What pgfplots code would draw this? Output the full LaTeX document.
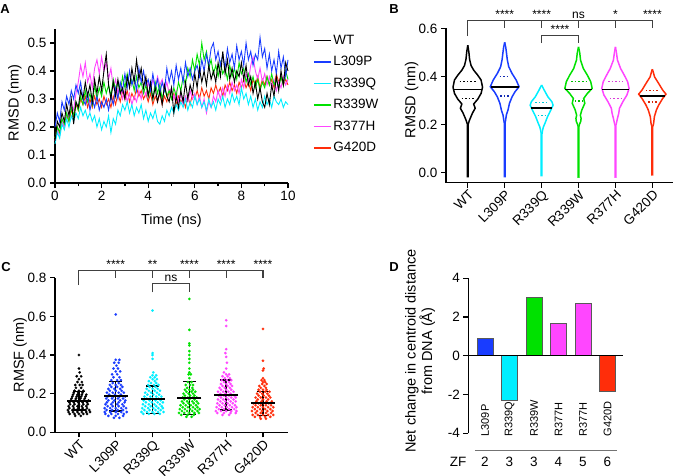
\documentclass[border=0pt]{standalone}
\usepackage{fontspec}
\setmainfont{Liberation Sans}
\usepackage{pgfplots}
\pgfplotsset{compat=1.18}
\usepackage{pgfplotstable}

\definecolor{cWT}{RGB}{0,0,0}
\definecolor{cL}{RGB}{25,60,255}
\definecolor{cQ}{RGB}{0,238,255}
\definecolor{cW}{RGB}{0,225,0}
\definecolor{cH}{RGB}{255,70,255}
\definecolor{cD}{RGB}{255,45,10}

\newcommand\tfont{\fontsize{13.5}{15}\selectfont}
\newcommand\lfont{\fontsize{14.5}{16.6}\selectfont}
\newcommand\sfont{\fontsize{12}{13}\selectfont}
\newcommand\bfont{\fontsize{11}{12}\selectfont}

\tikzset{q/.style={dash pattern=on 1.6pt off 2pt, line width=1.3pt}}

\pgfplotsset{
  prism/.style={
    scale only axis, clip=false,
    axis lines*=left,
    axis line style={-, line width=1.3pt},
    tick style={line width=1.3pt, black},
    tick align=outside,
    major tick length=5pt, minor tick length=3pt,
    tick label style={font=\tfont},
    label style={font=\lfont},
    /pgf/number format/assume math mode=true,
  },
  catx/.style={
    xtick={0,...,5},
    xticklabels={WT,L309P,R339Q,R339W,R377H,G420D},
    xticklabel style={rotate=45, anchor=north east, inner sep=1pt},
  },
  oneplace/.style={yticklabel style={/pgf/number format/.cd, fixed, fixed zerofill, precision=1}},
}

% RMSD over time (ns), one column per construct
\pgfplotstableread{
t WT L Q W H D
0.0 0.15 0.20 0.14 0.16 0.15 0.16
0.1 0.22 0.25 0.18 0.20 0.19 0.20
0.2 0.20 0.22 0.16 0.18 0.17 0.18
0.3 0.25 0.29 0.21 0.23 0.22 0.22
0.4 0.22 0.26 0.19 0.21 0.20 0.20
0.5 0.28 0.31 0.23 0.25 0.25 0.24
0.6 0.24 0.28 0.20 0.22 0.23 0.22
0.7 0.30 0.33 0.24 0.27 0.28 0.26
0.8 0.21 0.30 0.22 0.24 0.26 0.24
0.9 0.29 0.35 0.25 0.29 0.32 0.28
1.0 0.27 0.32 0.23 0.26 0.36 0.26
1.1 0.33 0.36 0.27 0.31 0.42 0.30
1.2 0.30 0.30 0.24 0.28 0.38 0.28
1.3 0.36 0.28 0.26 0.33 0.43 0.31
1.4 0.31 0.32 0.23 0.29 0.36 0.27
1.5 0.35 0.26 0.25 0.32 0.39 0.30
1.6 0.29 0.30 0.22 0.28 0.34 0.27
1.7 0.37 0.27 0.24 0.35 0.41 0.31
1.8 0.32 0.31 0.20 0.30 0.44 0.28
1.9 0.38 0.26 0.23 0.34 0.39 0.30
2.0 0.33 0.29 0.19 0.31 0.45 0.27
2.1 0.40 0.27 0.22 0.36 0.40 0.31
2.2 0.46 0.30 0.20 0.32 0.43 0.28
2.3 0.35 0.26 0.24 0.35 0.37 0.30
2.4 0.30 0.31 0.18 0.31 0.41 0.27
2.5 0.36 0.28 0.23 0.37 0.34 0.31
2.6 0.31 0.34 0.21 0.33 0.37 0.28
2.7 0.37 0.30 0.26 0.36 0.32 0.32
2.8 0.32 0.36 0.24 0.32 0.35 0.29
2.9 0.34 0.33 0.28 0.38 0.30 0.33
3.0 0.30 0.39 0.26 0.34 0.33 0.30
3.1 0.38 0.34 0.29 0.39 0.29 0.33
3.2 0.34 0.40 0.25 0.35 0.32 0.29
3.3 0.41 0.35 0.28 0.37 0.28 0.32
3.4 0.36 0.38 0.24 0.33 0.31 0.30
3.5 0.44 0.33 0.27 0.38 0.29 0.34
3.6 0.37 0.41 0.25 0.34 0.33 0.31
3.7 0.41 0.36 0.28 0.36 0.30 0.33
3.8 0.34 0.40 0.23 0.32 0.34 0.30
3.9 0.38 0.35 0.26 0.35 0.31 0.32
4.0 0.31 0.37 0.22 0.31 0.36 0.29
4.1 0.36 0.33 0.25 0.34 0.33 0.32
4.2 0.30 0.39 0.23 0.30 0.37 0.28
4.3 0.34 0.34 0.26 0.36 0.34 0.31
4.4 0.29 0.37 0.22 0.32 0.38 0.29
4.5 0.33 0.32 0.21 0.35 0.35 0.32
4.6 0.28 0.36 0.24 0.30 0.37 0.28
4.7 0.35 0.33 0.22 0.34 0.33 0.31
4.8 0.31 0.41 0.26 0.31 0.36 0.29
4.9 0.29 0.36 0.24 0.33 0.32 0.33
5.0 0.34 0.40 0.27 0.30 0.34 0.30
5.1 0.25 0.35 0.25 0.34 0.30 0.32
5.2 0.31 0.42 0.28 0.31 0.33 0.28
5.3 0.27 0.37 0.26 0.36 0.29 0.31
5.4 0.33 0.41 0.29 0.33 0.32 0.29
5.5 0.29 0.36 0.27 0.38 0.28 0.30
5.6 0.36 0.43 0.30 0.35 0.31 0.27
5.7 0.30 0.38 0.26 0.41 0.29 0.31
5.8 0.35 0.41 0.29 0.38 0.33 0.28
5.9 0.32 0.37 0.27 0.44 0.30 0.32
6.0 0.39 0.40 0.31 0.40 0.32 0.30
6.1 0.34 0.42 0.28 0.46 0.28 0.33
6.2 0.41 0.38 0.30 0.42 0.31 0.30
6.3 0.36 0.44 0.27 0.50 0.27 0.34
6.4 0.40 0.40 0.29 0.44 0.30 0.31
6.5 0.35 0.46 0.26 0.47 0.25 0.33
6.6 0.42 0.42 0.30 0.41 0.29 0.30
6.7 0.37 0.48 0.27 0.44 0.27 0.34
6.8 0.40 0.50 0.29 0.39 0.31 0.32
6.9 0.36 0.44 0.26 0.42 0.29 0.35
7.0 0.43 0.47 0.30 0.38 0.33 0.32
7.1 0.38 0.42 0.28 0.43 0.30 0.34
7.2 0.47 0.46 0.31 0.39 0.34 0.31
7.3 0.39 0.41 0.27 0.41 0.31 0.35
7.4 0.44 0.48 0.30 0.37 0.35 0.33
7.5 0.37 0.43 0.28 0.42 0.32 0.36
7.6 0.41 0.46 0.32 0.38 0.36 0.33
7.7 0.36 0.41 0.29 0.41 0.33 0.35
7.8 0.40 0.49 0.31 0.37 0.35 0.32
7.9 0.38 0.44 0.28 0.43 0.32 0.36
8.0 0.43 0.47 0.34 0.39 0.37 0.34
8.1 0.37 0.42 0.30 0.41 0.34 0.37
8.2 0.42 0.50 0.32 0.36 0.39 0.34
8.3 0.35 0.44 0.28 0.39 0.36 0.36
8.4 0.38 0.47 0.31 0.35 0.42 0.33
8.5 0.32 0.42 0.27 0.38 0.45 0.37
8.6 0.36 0.46 0.30 0.34 0.40 0.35
8.7 0.30 0.44 0.26 0.37 0.37 0.38
8.8 0.34 0.52 0.29 0.33 0.41 0.34
8.9 0.29 0.45 0.27 0.36 0.36 0.37
9.0 0.27 0.48 0.31 0.34 0.39 0.35
9.1 0.32 0.41 0.28 0.38 0.35 0.38
9.2 0.28 0.46 0.30 0.35 0.38 0.35
9.3 0.35 0.40 0.27 0.39 0.34 0.37
9.4 0.31 0.44 0.31 0.35 0.37 0.34
9.5 0.38 0.39 0.29 0.37 0.33 0.39
9.6 0.33 0.47 0.28 0.34 0.36 0.36
9.7 0.40 0.41 0.30 0.38 0.34 0.38
9.8 0.35 0.45 0.27 0.35 0.38 0.35
9.9 0.43 0.38 0.29 0.40 0.35 0.37
10.0 0.40 0.44 0.28 0.37 0.37 0.35
}\rmsdtime

% violin outlines: RMSD value v, half width w (category units)
\pgfplotstableread{
v w
-0.018 0
-0.018 0.01
0.200 0.01
0.215 0.04
0.230 0.08
0.248 0.13
0.267 0.20
0.285 0.16
0.305 0.27
0.329 0.36
0.355 0.40
0.385 0.36
0.405 0.27
0.426 0.16
0.445 0.09
0.470 0.05
0.500 0.03
0.530 0
}\vWT
\pgfplotstableread{
v w
-0.018 0
-0.018 0.01
0.205 0.01
0.218 0.025
0.239 0.045
0.260 0.09
0.288 0.13
0.315 0.20
0.336 0.28
0.357 0.39
0.385 0.31
0.412 0.20
0.440 0.11
0.470 0.07
0.496 0.05
0.520 0.03
0.542 0
}\vL
\pgfplotstableread{
v w
-0.014 0
-0.014 0.01
0.160 0.01
0.175 0.025
0.190 0.05
0.204 0.09
0.232 0.16
0.260 0.25
0.280 0.31
0.294 0.28
0.315 0.17
0.343 0.07
0.355 0.03
0.364 0
}\vQ
\pgfplotstableread{
v w
-0.02 0
-0.02 0.01
0.190 0.01
0.200 0.025
0.212 0.06
0.225 0.07
0.238 0.05
0.260 0.09
0.288 0.17
0.308 0.14
0.329 0.24
0.350 0.37
0.378 0.33
0.405 0.24
0.433 0.13
0.468 0.055
0.496 0.035
0.523 0
}\vW
\pgfplotstableread{
v w
-0.02 0
-0.02 0.01
0.195 0.01
0.204 0.025
0.225 0.055
0.246 0.09
0.267 0.11
0.294 0.20
0.322 0.31
0.350 0.37
0.378 0.33
0.405 0.24
0.433 0.14
0.468 0.055
0.496 0.03
0.523 0
}\vH
\pgfplotstableread{
v w
-0.01 0
-0.01 0.01
0.190 0.01
0.204 0.035
0.232 0.055
0.260 0.11
0.280 0.17
0.308 0.28
0.326 0.37
0.343 0.28
0.371 0.17
0.398 0.06
0.415 0.03
0.430 0
}\vD

% RMSF mean per construct
\pgfplotstableread{
x m
0 0.160
1 0.188
2 0.171
3 0.179
4 0.195
5 0.150
}\rmsfstats

\begin{document}
\begin{tikzpicture}[x=1pt,y=1pt]
\useasboundingbox (0,0) rectangle (677,475);

% ---------------- A
\begin{axis}[prism, at={(55pt,292pt)}, anchor=south west,
  width=233pt, height=154pt,
  xmin=0, xmax=10, ymin=0, ymax=0.55,
  xtick={0,2,...,10}, minor xtick={1,3,...,9},
  ytick={0,0.1,0.2,0.3,0.4,0.5}, oneplace,
  xlabel={Time (ns)}, ylabel={RMSD (nm)},
  xlabel style={at={(axis description cs:0.5,-0.245)}, anchor=center},
  ylabel style={at={(axis description cs:-0.172,0.52)}, anchor=center},
  legend image code/.code={\draw[#1, line width=1.3pt] (0pt,0pt) -- (17pt,0pt);},
  legend style={at={(1.107,0.975)}, anchor=north west, draw=none, fill=none,
    inner sep=0pt, row sep=6.6pt, font=\tfont, legend cell align=left},
]
\addplot[cD, line width=0.9pt, forget plot] table[x=t, y=D] {\rmsdtime};
\addplot[cH, line width=0.9pt, forget plot] table[x=t, y=H] {\rmsdtime};
\addplot[cW, line width=0.9pt, forget plot] table[x=t, y=W] {\rmsdtime};
\addplot[cQ, line width=0.9pt, forget plot] table[x=t, y=Q] {\rmsdtime};
\addplot[cL, line width=0.9pt, forget plot] table[x=t, y=L] {\rmsdtime};
\addplot[cWT, line width=0.9pt, forget plot] table[x=t, y=WT] {\rmsdtime};
\addlegendimage{cWT}
\addlegendimage{cL}
\addlegendimage{cQ}
\addlegendimage{cW}
\addlegendimage{cH}
\addlegendimage{cD}
\legend{WT, L309P, R339Q, R339W, R377H, G420D}
\end{axis}

% ---------------- B
\begin{axis}[prism, catx, at={(446pt,292.3pt)}, anchor=south west,
  width=227pt, height=154.3pt,
  xmin=-0.59, xmax=5.56, ymin=-0.043, ymax=0.6,
  ytick={0,0.2,0.4,0.6}, oneplace,
  ylabel={RMSD (nm)},
  ylabel style={at={(axis description cs:-0.151,0.536)}, anchor=center},
]
\addplot[cWT, line width=1.5pt] table[x expr=0+\thisrow{w}, y=v] {\vWT};
\addplot[cWT, line width=1.5pt] table[x expr=0-\thisrow{w}, y=v] {\vWT};
\addplot[cL, line width=1.5pt] table[x expr=1+\thisrow{w}, y=v] {\vL};
\addplot[cL, line width=1.5pt] table[x expr=1-\thisrow{w}, y=v] {\vL};
\addplot[cQ, line width=1.5pt] table[x expr=2+\thisrow{w}, y=v] {\vQ};
\addplot[cQ, line width=1.5pt] table[x expr=2-\thisrow{w}, y=v] {\vQ};
\addplot[cW, line width=1.5pt] table[x expr=3+\thisrow{w}, y=v] {\vW};
\addplot[cW, line width=1.5pt] table[x expr=3-\thisrow{w}, y=v] {\vW};
\addplot[cH, line width=1.5pt] table[x expr=4+\thisrow{w}, y=v] {\vH};
\addplot[cH, line width=1.5pt] table[x expr=4-\thisrow{w}, y=v] {\vH};
\addplot[cD, line width=1.5pt] table[x expr=5+\thisrow{w}, y=v] {\vD};
\addplot[cD, line width=1.5pt] table[x expr=5-\thisrow{w}, y=v] {\vD};
% medians
\addplot[black, line width=1.6pt] coordinates {(-0.38,0.345) (0.38,0.345)};
\addplot[black, line width=1.6pt] coordinates {(0.62,0.357) (1.38,0.357)};
\addplot[black, line width=1.6pt] coordinates {(1.72,0.269) (2.28,0.269)};
\addplot[black, line width=1.6pt] coordinates {(2.64,0.346) (3.36,0.346)};
\addplot[black, line width=1.6pt] coordinates {(3.64,0.346) (4.36,0.346)};
\addplot[black, line width=1.6pt] coordinates {(4.67,0.318) (5.33,0.318)};
% quartiles
\addplot[cWT, q] coordinates {(-0.22,0.38) (0.22,0.38)};
\addplot[cWT, q] coordinates {(-0.17,0.308) (0.17,0.308)};
\addplot[cL!70!black, q] coordinates {(0.86,0.401) (1.14,0.401)};
\addplot[cL!70!black, q] coordinates {(0.88,0.318) (1.12,0.318)};
\addplot[cQ!85!black, q] coordinates {(1.82,0.292) (2.18,0.292)};
\addplot[cQ!85!black, q] coordinates {(1.89,0.238) (2.11,0.238)};
\addplot[cW!85!black, q] coordinates {(2.8,0.38) (3.2,0.38)};
\addplot[cW!85!black, q] coordinates {(2.9,0.298) (3.1,0.298)};
\addplot[cH!85!black, q] coordinates {(3.8,0.38) (4.2,0.38)};
\addplot[cH!85!black, q] coordinates {(3.85,0.308) (4.15,0.308)};
\addplot[cD!85!black, q] coordinates {(4.82,0.34) (5.18,0.34)};
\addplot[cD!85!black, q] coordinates {(4.88,0.293) (5.12,0.293)};
% significance
\draw[black!75, line width=1.1pt] (axis cs:0,0.568) -- (axis cs:0,0.632) -- (axis cs:5,0.632) -- (axis cs:5,0.601);
\draw[black!75, line width=1.1pt] (axis cs:1,0.632) -- (axis cs:1,0.601);
\draw[black!75, line width=1.1pt] (axis cs:2,0.632) -- (axis cs:2,0.601);
\draw[black!75, line width=1.1pt] (axis cs:3,0.632) -- (axis cs:3,0.601);
\draw[black!75, line width=1.1pt] (axis cs:4,0.632) -- (axis cs:4,0.601);
\draw[black!75, line width=1.1pt] (axis cs:2,0.539) -- (axis cs:2,0.572) -- (axis cs:3,0.572) -- (axis cs:3,0.539);
\node[anchor=base, font=\sfont] at (axis cs:1,0.64) {****};
\node[anchor=base, font=\sfont] at (axis cs:2,0.64) {****};
\node[anchor=base, font=\sfont] at (axis cs:3,0.64) {ns};
\node[anchor=base, font=\sfont] at (axis cs:4,0.64) {*};
\node[anchor=base, font=\sfont] at (axis cs:5,0.64) {****};
\node[anchor=base, font=\sfont] at (axis cs:2.5,0.58) {****};
\end{axis}

% ---------------- C
\begin{axis}[prism, catx, at={(55pt,42.7pt)}, anchor=south west,
  width=233pt, height=154.6pt,
  xmin=-0.65, xmax=5.68, ymin=0, ymax=0.8,
  ytick={0,0.2,0.4,0.6,0.8}, oneplace,
  ylabel={RMSF (nm)},
  ylabel style={at={(axis description cs:-0.15,0.5)}, anchor=center},
  dots/.style={only marks, mark=*, mark size=1.3pt, mark options={fill=#1, draw=#1, line width=0.1pt}},
  sd/.style={black, line width=1.5pt, unbounded coords=jump},
]
\addplot[dots=cWT] coordinates {
(-0.1,0.085)(0.05,0.085)
(-0.25,0.095)(-0.12,0.095)(0,0.095)(0.12,0.095)(0.22,0.095)
(-0.28,0.105)(-0.16,0.105)(-0.04,0.105)(0.08,0.105)(0.2,0.105)(0.3,0.105)
(-0.3,0.115)(-0.18,0.115)(-0.06,0.115)(0.06,0.115)(0.18,0.115)(0.28,0.115)
(-0.26,0.125)(-0.14,0.125)(-0.02,0.125)(0.1,0.125)(0.22,0.125)
(-0.28,0.135)(-0.16,0.135)(-0.04,0.135)(0.08,0.135)(0.2,0.135)
(-0.24,0.145)(-0.12,0.145)(0,0.145)(0.12,0.145)(0.24,0.145)
(-0.26,0.155)(-0.14,0.155)(-0.02,0.155)(0.1,0.155)(0.22,0.155)
(-0.22,0.165)(-0.1,0.165)(0.02,0.165)(0.14,0.165)(0.26,0.165)
(-0.2,0.175)(-0.08,0.175)(0.04,0.175)(0.16,0.175)
(-0.18,0.185)(-0.06,0.185)(0.06,0.185)(0.18,0.185)
(-0.16,0.195)(-0.04,0.195)(0.08,0.195)(0.2,0.195)
(-0.14,0.205)(-0.02,0.205)(0.1,0.205)
(-0.12,0.215)(0,0.215)(0.12,0.215)
(-0.08,0.23)(0.06,0.23)
(-0.1,0.245)(0.02,0.245)(0.1,0.245)
(-0.04,0.26)(0.08,0.26)
(0,0.275)
(-0.06,0.29)(0.06,0.29)
(0.02,0.31)(0,0.33)(0,0.40)
};
\addplot[dots=cL] coordinates {
(0.95,0.075)(1.1,0.075)
(0.8,0.085)(1,0.085)(1.2,0.085)
(0.72,0.095)(0.88,0.095)(1.06,0.095)(1.22,0.095)
(0.7,0.105)(0.85,0.105)(1,0.105)(1.15,0.105)(1.3,0.105)
(0.75,0.115)(0.9,0.115)(1.05,0.115)(1.2,0.115)
(0.7,0.125)(0.85,0.125)(1,0.125)(1.15,0.125)(1.28,0.125)
(0.78,0.135)(0.92,0.135)(1.08,0.135)(1.22,0.135)
(0.72,0.145)(0.88,0.145)(1.04,0.145)(1.18,0.145)
(0.76,0.155)(0.92,0.155)(1.08,0.155)(1.24,0.155)
(0.8,0.165)(0.96,0.165)(1.12,0.165)(1.26,0.165)
(0.74,0.175)(0.9,0.175)(1.06,0.175)(1.2,0.175)
(0.78,0.185)(0.94,0.185)(1.1,0.185)(1.26,0.185)
(0.82,0.195)(0.98,0.195)(1.14,0.195)
(0.76,0.205)(0.92,0.205)(1.08,0.205)(1.22,0.205)
(0.84,0.215)(1,0.215)(1.16,0.215)
(0.8,0.225)(0.96,0.225)(1.12,0.225)
(0.88,0.235)(1.04,0.235)(1.18,0.235)
(0.84,0.245)(1,0.245)(1.14,0.245)
(0.92,0.255)(1.08,0.255)
(0.88,0.27)(1.04,0.27)(1.14,0.27)
(0.94,0.285)(1.1,0.285)
(0.9,0.3)(1.04,0.3)
(1,0.315)(1.12,0.315)
(0.94,0.33)(1.06,0.33)
(1.02,0.345)
(0.96,0.36)(1.08,0.36)
(1,0.375)(1.1,0.375)
(1,0.61)
};
\addplot[dots=cQ] coordinates {
(1.75,0.095)(1.9,0.095)(2.05,0.095)(2.2,0.095)
(1.7,0.105)(1.85,0.105)(2,0.105)(2.15,0.105)(2.3,0.105)
(1.78,0.115)(1.92,0.115)(2.08,0.115)(2.22,0.115)
(1.72,0.125)(1.88,0.125)(2.02,0.125)(2.16,0.125)(2.28,0.125)
(1.8,0.135)(1.95,0.135)(2.1,0.135)(2.25,0.135)
(1.74,0.145)(1.9,0.145)(2.05,0.145)(2.2,0.145)
(1.82,0.155)(1.98,0.155)(2.14,0.155)(2.28,0.155)
(1.76,0.165)(1.92,0.165)(2.08,0.165)(2.22,0.165)
(1.84,0.175)(2,0.175)(2.16,0.175)
(1.78,0.185)(1.94,0.185)(2.1,0.185)(2.24,0.185)
(1.86,0.195)(2.02,0.195)(2.18,0.195)
(1.8,0.205)(1.96,0.205)(2.12,0.205)
(1.9,0.215)(2.06,0.215)(2.2,0.215)
(1.84,0.225)(2,0.225)(2.14,0.225)
(1.92,0.235)(2.08,0.235)
(1.88,0.245)(2.04,0.245)(2.16,0.245)
(1.96,0.255)(2.1,0.255)
(1.9,0.265)(2.06,0.265)
(2,0.275)(2.12,0.275)
(1.94,0.285)(2.06,0.285)
(2,0.295)(2.1,0.295)
(2.02,0.31)
(2,0.38)(2,0.40)(2,0.41)(2,0.63)
};
\addplot[dots=cW] coordinates {
(2.92,0.08)(3.06,0.08)
(2.78,0.09)(2.95,0.09)(3.12,0.09)
(2.72,0.1)(2.86,0.1)(3,0.1)(3.14,0.1)(3.26,0.1)
(2.8,0.11)(2.94,0.11)(3.08,0.11)(3.22,0.11)
(2.74,0.12)(2.88,0.12)(3.02,0.12)(3.16,0.12)(3.28,0.12)
(2.82,0.13)(2.96,0.13)(3.1,0.13)(3.22,0.13)
(2.76,0.14)(2.9,0.14)(3.04,0.14)(3.18,0.14)
(2.84,0.15)(2.98,0.15)(3.12,0.15)(3.24,0.15)
(2.8,0.16)(2.94,0.16)(3.08,0.16)(3.2,0.16)
(2.86,0.17)(3,0.17)(3.14,0.17)
(2.82,0.18)(2.96,0.18)(3.1,0.18)(3.2,0.18)
(2.88,0.19)(3.02,0.19)(3.14,0.19)
(2.84,0.2)(2.98,0.2)(3.1,0.2)
(2.92,0.21)(3.06,0.21)(3.16,0.21)
(2.88,0.22)(3,0.22)(3.1,0.22)
(2.94,0.23)(3.08,0.23)
(2.9,0.245)(3.02,0.245)(3.1,0.245)
(2.96,0.26)(3.06,0.26)
(3,0.28)(2.98,0.3)(3.04,0.3)(3,0.31)(3,0.33)(3,0.36)(3,0.38)(3,0.4)(3,0.42)(3,0.45)(3,0.46)(3,0.53)(3,0.69)
};
\addplot[dots=cH] coordinates {
(3.9,0.09)(4.08,0.09)
(3.76,0.1)(3.94,0.1)(4.12,0.1)(4.26,0.1)
(3.72,0.11)(3.86,0.11)(4,0.11)(4.14,0.11)(4.28,0.11)
(3.8,0.12)(3.94,0.12)(4.08,0.12)(4.22,0.12)
(3.74,0.13)(3.88,0.13)(4.02,0.13)(4.16,0.13)(4.28,0.13)
(3.82,0.14)(3.96,0.14)(4.1,0.14)(4.24,0.14)
(3.76,0.15)(3.9,0.15)(4.04,0.15)(4.18,0.15)
(3.84,0.16)(3.98,0.16)(4.12,0.16)(4.26,0.16)
(3.78,0.17)(3.92,0.17)(4.06,0.17)(4.2,0.17)
(3.86,0.18)(4,0.18)(4.14,0.18)(4.26,0.18)
(3.8,0.19)(3.94,0.19)(4.08,0.19)(4.22,0.19)
(3.84,0.2)(3.98,0.2)(4.12,0.2)
(3.78,0.21)(3.92,0.21)(4.06,0.21)(4.2,0.21)
(3.86,0.22)(4,0.22)(4.14,0.22)
(3.82,0.23)(3.96,0.23)(4.1,0.23)
(3.9,0.24)(4.04,0.24)(4.16,0.24)
(3.86,0.25)(4,0.25)(4.12,0.25)
(3.94,0.26)(4.08,0.26)
(3.88,0.27)(4.02,0.27)(4.14,0.27)
(3.96,0.28)(4.1,0.28)
(3.9,0.29)(4.04,0.29)
(4,0.3)(4.08,0.3)
(3.94,0.31)
(4,0.33)(4.02,0.36)(4,0.39)(3.98,0.41)(4,0.43)(4,0.55)(4,0.58)
};
\addplot[dots=cD] coordinates {
(4.94,0.07)(5.08,0.07)
(4.78,0.08)(4.92,0.08)(5.06,0.08)(5.2,0.08)
(4.72,0.09)(4.86,0.09)(5,0.09)(5.14,0.09)(5.28,0.09)
(4.8,0.1)(4.94,0.1)(5.08,0.1)(5.22,0.1)
(4.7,0.11)(4.84,0.11)(4.98,0.11)(5.12,0.11)(5.26,0.11)
(4.78,0.12)(4.92,0.12)(5.06,0.12)(5.2,0.12)
(4.72,0.13)(4.86,0.13)(5,0.13)(5.14,0.13)(5.28,0.13)
(4.8,0.14)(4.94,0.14)(5.08,0.14)(5.22,0.14)
(4.74,0.15)(4.88,0.15)(5.02,0.15)(5.16,0.15)
(4.82,0.16)(4.96,0.16)(5.1,0.16)(5.24,0.16)
(4.86,0.17)(5,0.17)(5.14,0.17)
(4.8,0.18)(4.94,0.18)(5.08,0.18)(5.2,0.18)
(4.88,0.19)(5.02,0.19)(5.16,0.19)
(4.84,0.2)(4.98,0.2)(5.12,0.2)
(4.92,0.21)(5.06,0.21)(5.18,0.21)
(4.88,0.22)(5,0.22)(5.1,0.22)
(4.94,0.23)(5.08,0.23)
(4.9,0.24)(5.04,0.24)
(4.98,0.25)(5.1,0.25)
(5,0.26)(5.06,0.26)
(4.96,0.27)(5.04,0.27)
(5,0.28)(5,0.32)(5.02,0.33)(5,0.37)(5,0.535)
};
% SD whiskers with caps
\addplot[sd] coordinates {(-0.17,0.115)(0.17,0.115)(nan,nan)(0,0.115)(0,0.21)(nan,nan)(-0.17,0.21)(0.17,0.21)};
\addplot[sd] coordinates {(0.83,0.11)(1.17,0.11)(nan,nan)(1,0.11)(1,0.262)(nan,nan)(0.83,0.262)(1.17,0.262)};
\addplot[sd] coordinates {(1.83,0.098)(2.17,0.098)(nan,nan)(2,0.098)(2,0.24)(nan,nan)(1.83,0.24)(2.17,0.24)};
\addplot[sd] coordinates {(2.83,0.093)(3.17,0.093)(nan,nan)(3,0.093)(3,0.262)(nan,nan)(2.83,0.262)(3.17,0.262)};
\addplot[sd] coordinates {(3.83,0.115)(4.17,0.115)(nan,nan)(4,0.115)(4,0.27)(nan,nan)(3.83,0.27)(4.17,0.27)};
\addplot[sd] coordinates {(4.83,0.086)(5.17,0.086)(nan,nan)(5,0.086)(5,0.21)(nan,nan)(4.83,0.21)(5.17,0.21)};
% means
\addplot[only marks, mark=-, mark size=12pt, mark options={line width=2.2pt, black}]
  table[x=x, y=m] {\rmsfstats};
% significance
\draw[black!75, line width=1.1pt] (axis cs:0,0.762) -- (axis cs:0,0.839) -- (axis cs:5,0.839) -- (axis cs:5,0.8);
\draw[black!75, line width=1.1pt] (axis cs:1,0.839) -- (axis cs:1,0.8);
\draw[black!75, line width=1.1pt] (axis cs:2,0.839) -- (axis cs:2,0.8);
\draw[black!75, line width=1.1pt] (axis cs:3,0.839) -- (axis cs:3,0.8);
\draw[black!75, line width=1.1pt] (axis cs:4,0.839) -- (axis cs:4,0.8);
\draw[black!75, line width=1.1pt] (axis cs:2,0.724) -- (axis cs:2,0.77) -- (axis cs:3,0.77) -- (axis cs:3,0.724);
\node[anchor=base, font=\sfont] at (axis cs:1,0.85) {****};
\node[anchor=base, font=\sfont] at (axis cs:2,0.85) {**};
\node[anchor=base, font=\sfont] at (axis cs:3,0.85) {****};
\node[anchor=base, font=\sfont] at (axis cs:4,0.85) {****};
\node[anchor=base, font=\sfont] at (axis cs:5,0.85) {****};
\node[anchor=base, font=\sfont] at (axis cs:2.5,0.78) {ns};
\end{axis}

% ---------------- D
\begin{axis}[prism, at={(468.3pt,41.7pt)}, anchor=south west,
  width=154.6pt, height=155pt,
  axis x line=none, axis y line*=left,
  xmin=-0.68, xmax=5.63, ymin=-4, ymax=4,
  ytick={-4,-2,0,2,4},
  ylabel={Net change in centroid distance\\from DNA (Å)},
  ylabel style={align=center, at={(axis description cs:-0.312,0.531)}, anchor=center},
  bars/.style={ybar, bar width=16pt, bar shift=0pt, fill=#1, draw=black!65, line width=0.8pt},
]
\addplot[bars=cL] coordinates {(0,0.9)};
\addplot[bars=cQ] coordinates {(1,-2.3)};
\addplot[bars=cW] coordinates {(2,3.0)};
\addplot[bars=cH] coordinates {(3,1.65)};
\addplot[bars=cH] coordinates {(4,2.7)};
\addplot[bars=cD] coordinates {(5,-1.85)};
\addplot[black, line width=1.3pt] coordinates {(-0.68,0) (5.63,0)};
\node[rotate=90, anchor=west, inner sep=0pt, font=\bfont] at (axis cs:0,-4.17) {L309P};
\node[rotate=90, anchor=west, inner sep=0pt, font=\bfont] at (axis cs:1,-4.17) {R339Q};
\node[rotate=90, anchor=west, inner sep=0pt, font=\bfont] at (axis cs:2,-4.17) {R339W};
\node[rotate=90, anchor=west, inner sep=0pt, font=\bfont] at (axis cs:3,-4.17) {R377H};
\node[rotate=90, anchor=west, inner sep=0pt, font=\bfont] at (axis cs:4,-4.17) {R377H};
\node[rotate=90, anchor=west, inner sep=0pt, font=\bfont] at (axis cs:5,-4.17) {G420D};
\draw[black!55, line width=1pt] (axis cs:-0.41,-4.89) -- (axis cs:5.38,-4.89);
\node[font=\tfont] at (axis cs:-1.1,-5.46) {ZF};
\node[font=\tfont] at (axis cs:0,-5.46) {2};
\node[font=\tfont] at (axis cs:1,-5.46) {3};
\node[font=\tfont] at (axis cs:2,-5.46) {3};
\node[font=\tfont] at (axis cs:3,-5.46) {4};
\node[font=\tfont] at (axis cs:4,-5.46) {5};
\node[font=\tfont] at (axis cs:5,-5.46) {6};
\end{axis}

% panel letters
\node[font=\bfseries\fontsize{13}{14}\selectfont] at (5pt,466pt) {A};
\node[font=\bfseries\fontsize{13}{14}\selectfont] at (394pt,466pt) {B};
\node[font=\bfseries\fontsize{13}{14}\selectfont] at (6pt,207.5pt) {C};
\node[font=\bfseries\fontsize{13}{14}\selectfont] at (394pt,207.5pt) {D};
\end{tikzpicture}
\end{document}
